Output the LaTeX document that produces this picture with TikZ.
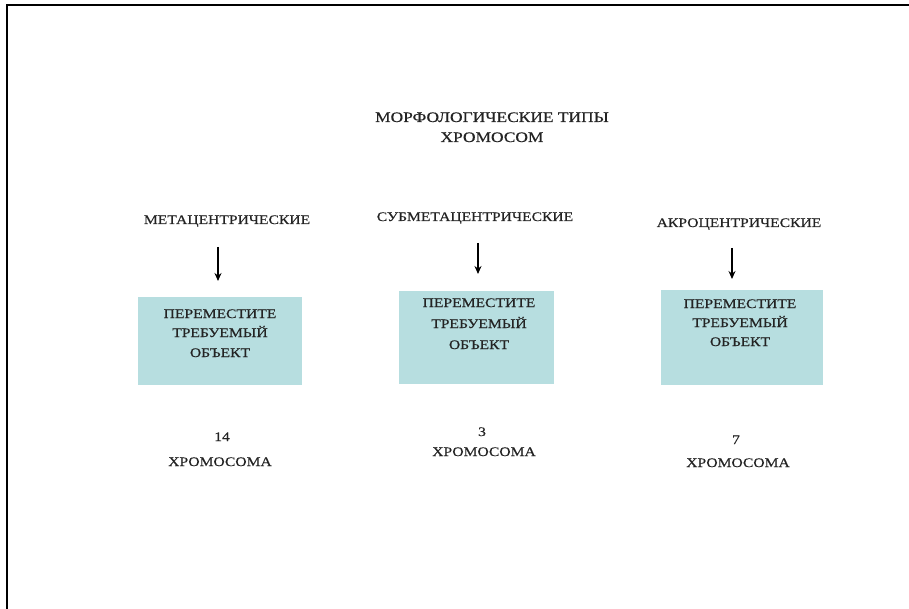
\documentclass[tikz,border=0pt]{standalone}
\usepackage{fontspec}
\setmainfont{Liberation Serif}[FakeStretch=1.2,FakeBold=0.4]
\usetikzlibrary{arrows.meta}
\definecolor{boxfill}{RGB}{183,222,224}
\definecolor{txt}{RGB}{35,35,35}
\tikzset{
  lbl/.style={anchor=base, inner sep=0pt, text=txt, font=\fontsize{13}{15}\selectfont},
  ttl/.style={anchor=base, inner sep=0pt, text=txt, font=\fontsize{14.5}{17}\selectfont},
  panel/.style={draw=none, fill=boxfill, anchor=north west, inner sep=0pt},
  arr/.style={line width=1.5pt, -{Stealth[length=8pt,width=7pt]}},
  frame/.style={line width=2.5pt, black}
}
\begin{document}
\begin{tikzpicture}[x=1pt,y=-1pt]
\useasboundingbox (0,0) rectangle (909,609);
\draw[frame] (909,5) -- (7,5) -- (7,609);

% title
\node[ttl] (t1) at (492,122) {МОРФОЛОГИЧЕСКИЕ ТИПЫ};
\node[ttl] (t2) at (492,142) {ХРОМОСОМ};

% column labels
\node[lbl] (l1) at (227,224) {МЕТАЦЕНТРИЧЕСКИЕ};
\node[lbl] (l2) at (475,221) {СУБМЕТАЦЕНТРИЧЕСКИЕ};
\node[lbl] (l3) at (739,227) {АКРОЦЕНТРИЧЕСКИЕ};

% boxes
\node[panel, minimum width=164pt, minimum height=88pt] (b1) at (138,297) {};
\node[panel, minimum width=155pt, minimum height=93pt] (b2) at (399,291) {};
\node[panel, minimum width=162pt, minimum height=95pt] (b3) at (661,290) {};

% arrows
\coordinate (a1s) at (218,247); \coordinate (a1e) at (218,281);
\coordinate (a2s) at (478,243); \coordinate (a2e) at (478,274);
\coordinate (a3s) at (732,248); \coordinate (a3e) at (732,279);
\draw[arr] (a1s) -- (a1e);
\draw[arr] (a2s) -- (a2e);
\draw[arr] (a3s) -- (a3e);

% box texts
\node[lbl] (b1a) at (220,318) {ПЕРЕМЕСТИТЕ};
\node[lbl] (b1b) at (220,337) {ТРЕБУЕМЫЙ};
\node[lbl] (b1c) at (220,357) {ОБЪЕКТ};
\node[lbl] (b2a) at (479,307) {ПЕРЕМЕСТИТЕ};
\node[lbl] (b2b) at (479,328) {ТРЕБУЕМЫЙ};
\node[lbl] (b2c) at (479,349) {ОБЪЕКТ};
\node[lbl] (b3a) at (740,308) {ПЕРЕМЕСТИТЕ};
\node[lbl] (b3b) at (740,327) {ТРЕБУЕМЫЙ};
\node[lbl] (b3c) at (740,346) {ОБЪЕКТ};

% bottom counts
\node[lbl] (n1) at (222,441) {14};
\node[lbl] (c1) at (220,466) {ХРОМОСОМА};
\node[lbl] (n2) at (482,436) {3};
\node[lbl] (c2) at (484,456) {ХРОМОСОМА};
\node[lbl] (n3) at (736,444) {7};
\node[lbl] (c3) at (738,467) {ХРОМОСОМА};
\end{tikzpicture}
\end{document}
